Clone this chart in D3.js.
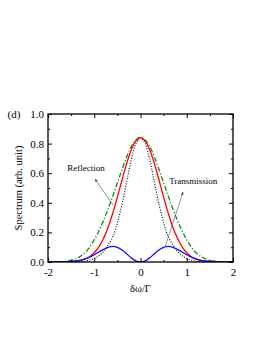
<!DOCTYPE html>
<html>
<head>
<script src="https://d3js.org/d3.v7.min.js" charset="utf-8"></script>
<style>
  body { margin: 0; background: #fff; }
  svg text { font-family: "Liberation Serif", "DejaVu Serif", serif; fill: #000; }
</style>
</head>
<body>
<svg id="chart" width="270" height="349"></svg>
<script>
// detuning axis, -2 .. 2 in steps of 0.1
const detuning = [-2.0,-1.9,-1.8,-1.7,-1.6,-1.5,-1.4,-1.3,-1.2,-1.1,-1.0,-0.9,-0.8,-0.7,-0.6,-0.5,-0.4,-0.3,-0.2,-0.1,
    0.0,0.1,0.2,0.3,0.4,0.5,0.6,0.7,0.8,0.9,1.0,1.1,1.2,1.3,1.4,1.5,1.6,1.7,1.8,1.9,2.0];

const redSeries = [0,0,0,0,0.001,0.002,0.005,0.010,0.020,0.036,0.062,0.102,0.159,0.235,0.329,0.438,0.554,0.665,0.757,0.818,
    0.840,0.818,0.757,0.665,0.554,0.438,0.329,0.235,0.159,0.102,0.062,0.036,0.020,0.010,0.005,0.002,0.001,0,0,0,0];

const greenSeries = [0,0,0.001,0.003,0.006,0.012,0.022,0.038,0.063,0.100,0.150,0.210,0.280,0.360,0.445,0.535,0.625,0.710,0.780,0.825,
    0.840,0.825,0.780,0.710,0.625,0.535,0.445,0.360,0.280,0.210,0.150,0.100,0.063,0.038,0.022,0.012,0.006,0.003,0.001,0,0];

const blackSeries = [0,0,0,0,0,0,0.001,0.002,0.005,0.013,0.024,0.042,0.072,0.115,0.170,0.265,0.390,0.540,0.690,0.800,
    0.840,0.800,0.690,0.540,0.390,0.265,0.170,0.115,0.072,0.042,0.024,0.013,0.005,0.002,0.001,0,0,0,0,0,0];

const blueSeries = [0,0,0,0.0007,0.0016,0.0034,0.0067,0.0122,0.0209,0.0332,0.0492,0.0676,0.0857,0.0995,0.105,0.0989,0.0813,0.0556,0.0284,0.0077,
    0,0.0077,0.0284,0.0556,0.0813,0.0989,0.105,0.0995,0.0857,0.0676,0.0492,0.0332,0.0209,0.0122,0.0067,0.0034,0.0016,0.0007,0,0,0];

const xTicks = [-2, -1, 0, 1, 2];
const yTicks = [0.0, 0.2, 0.4, 0.6, 0.8, 1.0];

const svg = d3.select("#chart");
const plotLeft = 48, plotRight = 233, plotTop = 114, plotBottom = 262;
const serif = "'Liberation Serif', 'DejaVu Serif', serif";

const x = d3.scaleLinear().domain([-2, 2]).range([plotLeft, plotRight]);
const y = d3.scaleLinear().domain([0, 1]).range([plotBottom, plotTop]);

// curves
const series = [
    {values: blackSeries, color: "#000", width: 1.1, dash: "1,1.6"},
    {values: greenSeries, color: "#138a13", width: 1.3, dash: "5,2,1.2,2"},
    {values: redSeries, color: "#ff0000", width: 1.3, dash: null},
    {values: blueSeries, color: "#1010ff", width: 1.3, dash: null}
];
const line = d3.line()
    .x((d, i) => x(detuning[i]))
    .y(d => y(d))
    .curve(d3.curveCatmullRom);

const defs = svg.append("defs");
defs.append("clipPath").attr("id", "clip")
    .append("rect").attr("x", plotLeft).attr("y", plotTop)
    .attr("width", plotRight - plotLeft).attr("height", plotBottom - plotTop);

series.forEach(function (s) {
    svg.append("path")
        .attr("clip-path", "url(#clip)")
        .attr("d", line(s.values))
        .attr("fill", "none")
        .attr("stroke", s.color)
        .attr("stroke-width", s.width)
        .attr("stroke-dasharray", s.dash);
});

// axes, ticks inward, mirrored on top and right
function styleAxis(g) {
    g.attr("font-family", serif);
    g.select(".domain").remove();
    g.selectAll("line").attr("stroke", "#000").attr("stroke-width", 1);
    g.selectAll("text").attr("font-family", serif).style("font-size", "11px");
}
const xMinor = [-1.5, -0.5, 0.5, 1.5];
const yMinor = [0.1, 0.3, 0.5, 0.7, 0.9];

svg.append("g").attr("transform", `translate(0,${plotBottom})`)
    .call(d3.axisBottom(x).tickValues(xTicks).tickFormat(d => String(d)).tickSizeInner(-4).tickPadding(6))
    .call(styleAxis);
svg.append("g").attr("transform", `translate(0,${plotBottom})`)
    .call(d3.axisBottom(x).tickValues(xMinor).tickFormat("").tickSizeInner(-2))
    .call(styleAxis);
svg.append("g").attr("transform", `translate(0,${plotTop})`)
    .call(d3.axisTop(x).tickValues(xTicks).tickFormat("").tickSizeInner(-4))
    .call(styleAxis);
svg.append("g").attr("transform", `translate(0,${plotTop})`)
    .call(d3.axisTop(x).tickValues(xMinor).tickFormat("").tickSizeInner(-2))
    .call(styleAxis);

svg.append("g").attr("transform", `translate(${plotLeft},0)`)
    .call(d3.axisLeft(y).tickValues(yTicks).tickFormat(d => d.toFixed(1)).tickSizeInner(-4).tickPadding(4))
    .call(styleAxis);
svg.append("g").attr("transform", `translate(${plotLeft},0)`)
    .call(d3.axisLeft(y).tickValues(yMinor).tickFormat("").tickSizeInner(-2))
    .call(styleAxis);
svg.append("g").attr("transform", `translate(${plotRight},0)`)
    .call(d3.axisRight(y).tickValues(yTicks).tickFormat("").tickSizeInner(-4))
    .call(styleAxis);
svg.append("g").attr("transform", `translate(${plotRight},0)`)
    .call(d3.axisRight(y).tickValues(yMinor).tickFormat("").tickSizeInner(-2))
    .call(styleAxis);

// frame
svg.append("rect")
    .attr("x", plotLeft).attr("y", plotTop)
    .attr("width", plotRight - plotLeft).attr("height", plotBottom - plotTop)
    .attr("fill", "none").attr("stroke", "#000").attr("stroke-width", 1.3);

// labels
svg.append("text").attr("x", 14).attr("y", 118).attr("font-family", serif)
    .attr("text-anchor", "middle").style("font-size", "11px").text("(d)");
svg.append("text").attr("font-family", serif)
    .attr("transform", `translate(22,${(plotTop + plotBottom) / 2}) rotate(-90)`)
    .attr("text-anchor", "middle").style("font-size", "10.5px")
    .text("Spectrum (arb. unit)");
svg.append("text").attr("x", x(0)).attr("y", 292).attr("font-family", serif)
    .attr("text-anchor", "middle").style("font-size", "10.5px").text("δω/Γ");

// annotations with arrows
defs.append("marker")
    .attr("id", "arrow").attr("viewBox", "0 0 10 10")
    .attr("refX", 9).attr("refY", 5)
    .attr("markerWidth", 5).attr("markerHeight", 5)
    .attr("orient", "auto")
    .append("path").attr("d", "M0,1 L10,5 L0,9 z").attr("fill", "#555");

const notes = [
    {text: "Reflection", tx: -1.18, ty: 0.615, from: [-0.595, 0.385], to: [-0.984, 0.561]},
    {text: "Transmission", tx: 1.14, ty: 0.525, from: [0.53, 0.10], to: [0.92, 0.473]}
];
notes.forEach(function (n) {
    svg.append("line")
        .attr("x1", x(n.from[0])).attr("y1", y(n.from[1]))
        .attr("x2", x(n.to[0])).attr("y2", y(n.to[1]))
        .attr("stroke", "#666").attr("stroke-width", 0.7)
        .attr("marker-end", "url(#arrow)");
    svg.append("text").attr("x", x(n.tx)).attr("y", y(n.ty)).attr("font-family", serif)
        .attr("text-anchor", "middle").style("font-size", "9px").text(n.text);
});
</script>
</body>
</html>
